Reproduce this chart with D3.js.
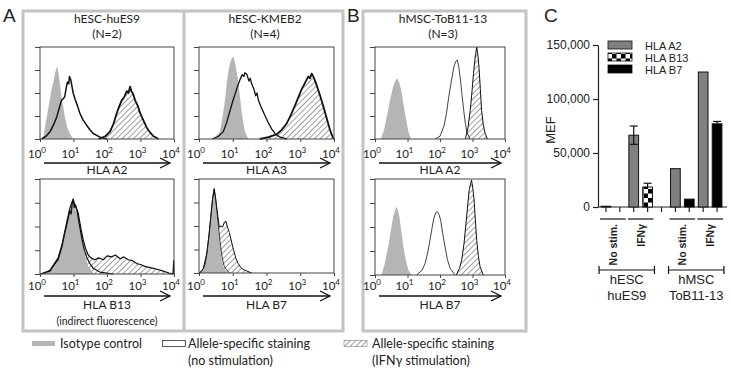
<!DOCTYPE html>
<html>
<head>
<meta charset="utf-8">
<script src="https://cdn.jsdelivr.net/npm/d3@7"></script>
<style>
body { margin: 0; background: #fff; }
svg { display: block; }
.cal { font-family: Lato, "Open Sans", sans-serif; fill: #222; }
.ari { font-family: "Liberation Sans", Arial, sans-serif; fill: #222; }
</style>
</head>
<body>
<svg id="fig" width="731" height="370"></svg>
<script>
// ---- histogram curves: [log10 fluorescence, relative count] ----
const huES9_A2_iso = [[0.05,0],[0.12,0.05],[0.2,0.24],[0.27,0.38],[0.34,0.53],[0.4,0.62],[0.45,0.72],[0.51,0.79],[0.56,0.7],[0.6,0.58],[0.64,0.46],[0.7,0.34],[0.74,0.24],[0.82,0.12],[0.89,0.06],[0.99,0]]
const huES9_A2_ns = [[0.05,0],[0.18,0.03],[0.3,0.08],[0.4,0.15],[0.5,0.24],[0.57,0.33],[0.64,0.42],[0.7,0.44],[0.74,0.46],[0.78,0.55],[0.82,0.62],[0.86,0.6],[0.88,0.68],[0.92,0.64],[0.96,0.56],[0.99,0.5],[1.05,0.43],[1.12,0.36],[1.19,0.28],[1.28,0.21],[1.39,0.15],[1.49,0.1],[1.59,0.06],[1.79,0.02],[1.99,0]]
const huES9_A2_ifn = [[1.75,0],[1.95,0.03],[2.09,0.08],[2.2,0.17],[2.29,0.28],[2.37,0.36],[2.44,0.42],[2.52,0.46],[2.59,0.52],[2.64,0.5],[2.69,0.57],[2.73,0.52],[2.78,0.49],[2.84,0.42],[2.92,0.36],[2.99,0.28],[3.09,0.2],[3.19,0.12],[3.29,0.07],[3.39,0.03],[3.54,0]]

const kmeb2_A3_iso = [[0.35,0],[0.5,0.03],[0.62,0.08],[0.7,0.25],[0.77,0.42],[0.82,0.6],[0.87,0.73],[0.93,0.84],[0.98,0.88],[1.02,0.9],[1.07,0.82],[1.14,0.68],[1.2,0.5],[1.26,0.31],[1.31,0.18],[1.36,0.08],[1.46,0]]
const kmeb2_A3_ns = [[0.4,0],[0.58,0.03],[0.72,0.08],[0.82,0.18],[0.92,0.31],[1.0,0.41],[1.07,0.49],[1.14,0.57],[1.21,0.64],[1.28,0.7],[1.33,0.68],[1.36,0.72],[1.42,0.7],[1.48,0.63],[1.52,0.66],[1.56,0.6],[1.62,0.55],[1.68,0.47],[1.72,0.5],[1.76,0.42],[1.86,0.33],[1.96,0.25],[2.05,0.18],[2.15,0.11],[2.25,0.06],[2.4,0.02],[2.6,0]]
const kmeb2_A3_ifn = [[1.8,0],[2.05,0.02],[2.3,0.05],[2.45,0.1],[2.6,0.17],[2.72,0.26],[2.84,0.36],[2.94,0.45],[3.04,0.54],[3.14,0.61],[3.24,0.68],[3.29,0.66],[3.34,0.71],[3.4,0.67],[3.49,0.58],[3.58,0.48],[3.68,0.36],[3.78,0.23],[3.88,0.1],[3.95,0.03],[4.0,0]]

const tob_A2_iso = [[0.18,0],[0.28,0.1],[0.4,0.31],[0.48,0.45],[0.56,0.57],[0.62,0.63],[0.68,0.66],[0.74,0.62],[0.81,0.53],[0.88,0.37],[0.96,0.2],[1.03,0.08],[1.11,0]]
const tob_A2_ns = [[1.85,0],[2.0,0.03],[2.12,0.14],[2.2,0.28],[2.27,0.46],[2.35,0.63],[2.43,0.79],[2.48,0.84],[2.53,0.86],[2.58,0.78],[2.63,0.64],[2.68,0.47],[2.73,0.31],[2.78,0.17],[2.83,0.07],[2.93,0]]
const tob_A2_ifn = [[2.78,0],[2.86,0.12],[2.93,0.31],[2.98,0.5],[3.03,0.71],[3.08,0.88],[3.13,1.0],[3.17,0.9],[3.2,0.78],[3.24,0.55],[3.28,0.31],[3.33,0.16],[3.38,0.07],[3.46,0]]

const huES9_B13_iso = [[0.08,0],[0.25,0.02],[0.39,0.05],[0.52,0.13],[0.64,0.25],[0.72,0.38],[0.79,0.5],[0.85,0.6],[0.89,0.66],[0.94,0.7],[0.99,0.74],[1.05,0.68],[1.1,0.64],[1.14,0.6],[1.2,0.46],[1.29,0.29],[1.36,0.17],[1.44,0.08],[1.59,0.01],[1.69,0]]
const huES9_B13_ns = [[0,0],[0.3,0.03],[0.54,0.15],[0.65,0.28],[0.74,0.43],[0.8,0.52],[0.85,0.6],[0.89,0.67],[0.93,0.63],[0.96,0.74],[0.99,0.78],[1.02,0.7],[1.06,0.73],[1.11,0.66],[1.17,0.53],[1.24,0.39],[1.31,0.27],[1.39,0.18],[1.49,0.11],[1.59,0.06],[1.79,0.02],[2.19,0]]
const huES9_B13_ifn = [[0.05,0],[0.3,0.04],[0.54,0.17],[0.65,0.3],[0.74,0.45],[0.82,0.58],[0.89,0.69],[0.95,0.75],[0.99,0.79],[1.04,0.72],[1.08,0.7],[1.14,0.64],[1.22,0.48],[1.29,0.36],[1.36,0.27],[1.44,0.2],[1.52,0.17],[1.64,0.15],[1.75,0.17],[1.89,0.15],[2.0,0.19],[2.14,0.18],[2.25,0.2],[2.39,0.16],[2.5,0.18],[2.64,0.15],[2.76,0.14],[2.89,0.11],[3.0,0.1],[3.13,0.08],[3.25,0.07],[3.38,0.06],[3.5,0.05],[3.68,0.03],[3.85,0.01],[3.97,0],[3.99,0.14],[4.0,0]]

const kmeb2_B7_iso = [[0.03,0],[0.12,0.04],[0.18,0.1],[0.23,0.2],[0.28,0.35],[0.33,0.53],[0.38,0.71],[0.42,0.82],[0.45,0.88],[0.48,0.78],[0.52,0.64],[0.57,0.45],[0.62,0.28],[0.67,0.15],[0.72,0.07],[0.8,0.02],[0.87,0]]
const kmeb2_B7_ns = [[0.0,0],[0.1,0.03],[0.18,0.09],[0.24,0.22],[0.29,0.38],[0.34,0.56],[0.38,0.72],[0.42,0.84],[0.45,0.9],[0.49,0.8],[0.53,0.66],[0.58,0.48],[0.63,0.31],[0.68,0.18],[0.74,0.08],[0.82,0.03],[0.92,0]]
const kmeb2_B7_ifn = [[0.03,0],[0.13,0.05],[0.23,0.21],[0.3,0.42],[0.35,0.6],[0.4,0.78],[0.45,0.89],[0.49,0.8],[0.52,0.71],[0.56,0.6],[0.6,0.49],[0.65,0.5],[0.7,0.49],[0.75,0.54],[0.8,0.55],[0.85,0.48],[0.9,0.43],[0.96,0.34],[1.02,0.25],[1.09,0.16],[1.16,0.1],[1.26,0.05],[1.36,0.03],[1.56,0]]

const tob_B7_iso = [[0.2,0],[0.3,0.12],[0.41,0.3],[0.49,0.47],[0.56,0.61],[0.65,0.71],[0.7,0.68],[0.75,0.61],[0.81,0.45],[0.87,0.3],[0.95,0.15],[1.03,0.05],[1.13,0]]
const tob_B7_ns = [[1.28,0],[1.45,0.05],[1.54,0.12],[1.62,0.23],[1.69,0.36],[1.75,0.48],[1.81,0.59],[1.87,0.65],[1.92,0.66],[1.97,0.63],[2.02,0.57],[2.08,0.44],[2.15,0.3],[2.23,0.16],[2.31,0.07],[2.46,0]]
const tob_B7_ifn = [[2.5,0],[2.6,0.07],[2.67,0.16],[2.74,0.33],[2.8,0.54],[2.85,0.72],[2.9,0.89],[2.94,0.95],[2.97,0.99],[3.01,0.9],[3.05,0.78],[3.09,0.56],[3.13,0.36],[3.18,0.2],[3.23,0.09],[3.33,0]]

const decades = [0, 1, 2, 3, 4]
const yTicks = [0, 0.25, 0.5, 0.75, 1]

// ---- panel C: MEF bars ----
const slots = ['hESC|ns|A2', 'hESC|ns|B13', 'hESC|ifn|A2', 'hESC|ifn|B13', 'gap',
               'hMSC|ns|A2', 'hMSC|ns|B7', 'hMSC|ifn|A2', 'hMSC|ifn|B7']
const barKeys   = ['hESC|ns|A2', 'hESC|ifn|A2', 'hESC|ifn|B13', 'hMSC|ns|A2', 'hMSC|ns|B7', 'hMSC|ifn|A2', 'hMSC|ifn|B7']
const barAllele = ['A2', 'A2', 'B13', 'A2', 'B7', 'A2', 'B7']
const barMEF    = [700, 66500, 18500, 35500, 7300, 125000, 77000]
const barSEM    = [0, 8500, 3500, 0, 0, 0, 2200]
const mefTicks  = [0, 50000, 100000, 150000]
const alleles   = ['HLA A2', 'HLA B13', 'HLA B7']
const conditions = [
    {label: 'No stim.', from: 'hESC|ns|A2', to: 'hESC|ns|B13'},
    {label: 'IFNγ', from: 'hESC|ifn|A2', to: 'hESC|ifn|B13'},
    {label: 'No stim.', from: 'hMSC|ns|A2', to: 'hMSC|ns|B7'},
    {label: 'IFNγ', from: 'hMSC|ifn|A2', to: 'hMSC|ifn|B7'}
]
const cellLines = [
    {lines: ['hESC', 'huES9'], from: 'hESC|ns|A2', to: 'hESC|ifn|B13'},
    {lines: ['hMSC', 'ToB11-13'], from: 'hMSC|ns|A2', to: 'hMSC|ifn|B7'}
]

const svg = d3.select('#fig')
const defs = svg.append('defs')

// hatch for IFN stimulation
const hatch = defs.append('pattern')
    .attr('id', 'hatch')
    .attr('patternUnits', 'userSpaceOnUse')
    .attr('width', 4).attr('height', 4)
    .attr('patternTransform', 'rotate(45)')
hatch.append('line')
    .attr('x1', 0).attr('y1', 0).attr('x2', 0).attr('y2', 4)
    .attr('stroke', '#2a2a2a').attr('stroke-width', 0.9)

// checkerboard for HLA B13
const check = defs.append('pattern')
    .attr('id', 'check')
    .attr('patternUnits', 'userSpaceOnUse')
    .attr('width', 9).attr('height', 9)
check.append('rect').attr('width', 9).attr('height', 9).attr('fill', '#fff')
check.append('rect').attr('width', 4.5).attr('height', 4.5).attr('fill', '#000')
check.append('rect').attr('x', 4.5).attr('y', 4.5).attr('width', 4.5).attr('height', 4.5).attr('fill', '#000')

const isoGrey = '#b5b5b5'
const boxGrey = '#c3c3c3'

// outer frames
svg.append('rect')
    .attr('x', 23).attr('y', 11).attr('width', 320).attr('height', 320)
    .attr('fill', 'none').attr('stroke', boxGrey).attr('stroke-width', 3)
svg.append('line')
    .attr('x1', 184).attr('x2', 184).attr('y1', 11).attr('y2', 331)
    .attr('stroke', boxGrey).attr('stroke-width', 3)
svg.append('rect')
    .attr('x', 363).attr('y', 11).attr('width', 163).attr('height', 320)
    .attr('fill', 'none').attr('stroke', boxGrey).attr('stroke-width', 3)

// panel letters
svg.append('text').attr('class', 'ari').attr('x', 3).attr('y', 22)
    .attr('font-size', 19).text('A')
svg.append('text').attr('class', 'ari').attr('x', 347).attr('y', 22)
    .attr('font-size', 19).text('B')
svg.append('text').attr('class', 'ari').attr('x', 544).attr('y', 22)
    .attr('font-size', 19).text('C')

// column titles
const titles = [
    {name: 'hESC-huES9', n: '(N=2)', cx: 107},
    {name: 'hESC-KMEB2', n: '(N=4)', cx: 265},
    {name: 'hMSC-ToB11-13', n: '(N=3)', cx: 443}
]
titles.forEach(t => {
    svg.append('text').attr('class', 'cal').attr('x', t.cx).attr('y', 23)
        .attr('text-anchor', 'middle').attr('font-size', 12).text(t.name)
    svg.append('text').attr('class', 'cal').attr('x', t.cx).attr('y', 38)
        .attr('text-anchor', 'middle').attr('font-size', 12).text(t.n)
})

const histPanels = [
    {x0: 40, x1: 174, y0: 47, y1: 139, row: 0, iso: huES9_A2_iso, ns: huES9_A2_ns, ifn: huES9_A2_ifn, marker: 'HLA A2', lw: [1.5, 1.8]},
    {x0: 199, x1: 334, y0: 47, y1: 139, row: 0, iso: kmeb2_A3_iso, ns: kmeb2_A3_ns, ifn: kmeb2_A3_ifn, marker: 'HLA A3', lw: [1.3, 1.8]},
    {x0: 375, x1: 505, y0: 47, y1: 139, row: 0, iso: tob_A2_iso, ns: tob_A2_ns, ifn: tob_A2_ifn, marker: 'HLA A2', lw: [0.8, 1.0]},
    {x0: 40, x1: 174, y0: 179, y1: 274, row: 1, iso: huES9_B13_iso, ns: huES9_B13_ns, ifn: huES9_B13_ifn, marker: 'HLA B13', lw: [1.2, 1.2]},
    {x0: 199, x1: 334, y0: 179, y1: 273, row: 1, iso: kmeb2_B7_iso, ns: kmeb2_B7_ns, ifn: kmeb2_B7_ifn, marker: 'HLA B7', lw: [0.8, 1.0]},
    {x0: 375, x1: 505, y0: 179, y1: 275, row: 1, iso: tob_B7_iso, ns: tob_B7_ns, ifn: tob_B7_ifn, marker: 'HLA B7', lw: [0.8, 1.0]}
]
const rowText = [
    {tick: 158, arrow: 163, label: 174},
    {tick: 290, arrow: 296, label: 309}
]

function drawHist(p) {
    const g = svg.append('g')
    const x = d3.scaleLog().domain([1, 1e4]).range([p.x0, p.x1])
    const y = d3.scaleLinear().domain([0, 1]).range([p.y1, p.y0])

    const area = d3.area()
        .x(d => x(10 ** d[0]))
        .y0(y(0))
        .y1(d => y(d[1]))
    const line = d3.line()
        .x(d => x(10 ** d[0]))
        .y(d => y(d[1]))

    g.append('path').datum(p.ifn).attr('d', area).attr('fill', 'url(#hatch)')
    g.append('path').datum(p.iso).attr('d', area).attr('fill', isoGrey)
    g.append('path').datum(p.ns).attr('d', line)
        .attr('fill', 'none').attr('stroke', '#111').attr('stroke-width', p.lw[0])
        .attr('stroke-linejoin', 'round')
    g.append('path').datum(p.ifn).attr('d', line)
        .attr('fill', 'none').attr('stroke', '#111').attr('stroke-width', p.lw[1])
        .attr('stroke-linejoin', 'round')

    // frame
    g.append('rect')
        .attr('x', p.x0).attr('y', p.y0)
        .attr('width', p.x1 - p.x0).attr('height', p.y1 - p.y0)
        .attr('fill', 'none').attr('stroke', '#444').attr('stroke-width', 1)

    // axes (ticks only, frame draws the lines)
    const yAxis = d3.axisLeft(y).tickValues(yTicks).tickSize(5).tickSizeOuter(0).tickFormat('')
    const xAxis = d3.axisBottom(x).tickValues(decades.map(e => 10 ** e)).tickSize(3).tickSizeOuter(0).tickFormat('')
    g.append('g').attr('transform', 'translate(' + p.x0 + ',0)').call(yAxis)
        .call(a => a.select('.domain').remove())
        .selectAll('line').attr('stroke', '#444')
    g.append('g').attr('transform', 'translate(0,' + p.y1 + ')').call(xAxis)
        .call(a => a.select('.domain').remove())
        .selectAll('line').attr('stroke', '#444')

    // decade labels
    const r = rowText[p.row]
    decades.forEach(e => {
        const t = g.append('text').attr('class', 'cal')
            .attr('x', x(10 ** e) - 3).attr('y', r.tick)
            .attr('text-anchor', 'middle').attr('font-size', 11.5)
        t.append('tspan').text('10')
        t.append('tspan').attr('dy', -5).attr('font-size', 8).text(e)
    })

    // arrow
    const ax0 = p.x0 + 4
    const ax1 = p.x1 - 4
    g.append('line')
        .attr('x1', ax0).attr('x2', ax1).attr('y1', r.arrow).attr('y2', r.arrow)
        .attr('stroke', '#111').attr('stroke-width', 1.3)
    g.append('path')
        .attr('d', 'M' + (ax1 - 10) + ',' + (r.arrow - 5) + 'L' + ax1 + ',' + r.arrow + 'L' + (ax1 - 10) + ',' + (r.arrow + 5))
        .attr('fill', 'none').attr('stroke', '#111').attr('stroke-width', 1.3)

    g.append('text').attr('class', 'cal')
        .attr('x', (p.x0 + p.x1) / 2).attr('y', r.label)
        .attr('text-anchor', 'middle').attr('font-size', 12).text(p.marker)
}

histPanels.forEach(drawHist)

svg.append('text').attr('class', 'cal')
    .attr('x', 107).attr('y', 325)
    .attr('text-anchor', 'middle').attr('font-size', 10.5).text('(indirect fluorescence)')

// bottom legend
const legY = 341
svg.append('rect').attr('x', 32).attr('y', legY).attr('width', 23).attr('height', 5).attr('fill', isoGrey)
svg.append('text').attr('class', 'cal').attr('x', 60).attr('y', legY + 7).attr('font-size', 12.5).text('Isotype control')
svg.append('rect').attr('x', 162.5).attr('y', legY - 0.5).attr('width', 23).attr('height', 6)
    .attr('fill', '#fff').attr('stroke', '#333').attr('stroke-width', 0.8)
svg.append('text').attr('class', 'cal').attr('x', 188).attr('y', legY + 7).attr('font-size', 12.5).text('Allele-specific staining')
svg.append('text').attr('class', 'cal').attr('x', 188).attr('y', legY + 24).attr('font-size', 12.5).text('(no stimulation)')
svg.append('rect').attr('x', 344).attr('y', legY - 0.5).attr('width', 23).attr('height', 6)
    .attr('fill', 'url(#hatch)').attr('stroke', '#666').attr('stroke-width', 0.5)
svg.append('text').attr('class', 'cal').attr('x', 372).attr('y', legY + 7).attr('font-size', 12.5).text('Allele-specific staining')
svg.append('text').attr('class', 'cal').attr('x', 372).attr('y', legY + 24).attr('font-size', 12.5).text('(IFNγ stimulation)')

// ---- panel C ----
const cg = svg.append('g')
const xC = d3.scaleBand().domain(slots).range([599, 724]).paddingInner(0.3).paddingOuter(0.15)
const yC = d3.scaleLinear().domain([0, 150000]).range([207, 45])
const alleleFill = {A2: '#808080', B13: 'url(#check)', B7: '#000'}

cg.append('g').attr('class', 'ari')
    .attr('transform', 'translate(598,0)')
    .call(d3.axisLeft(yC).tickValues(mefTicks).tickFormat(d3.format(',')).tickSize(5).tickSizeOuter(0))
    .call(a => a.selectAll('text').attr('font-size', 12).attr('font-family', '"Liberation Sans", Arial, sans-serif').attr('fill', '#222'))
    .call(a => a.selectAll('line,path').attr('stroke', '#222').attr('stroke-width', 1.2))

cg.append('g')
    .attr('transform', 'translate(0,207)')
    .call(d3.axisBottom(xC).tickFormat('').tickSize(5).tickSizeOuter(0))
    .call(a => a.select('.domain').attr('d', 'M598,0H727'))
    .call(a => a.selectAll('line,path').attr('stroke', '#222').attr('stroke-width', 1.2))

barKeys.forEach((k, i) => {
    cg.append('rect')
        .attr('x', xC(k)).attr('width', xC.bandwidth())
        .attr('y', yC(barMEF[i])).attr('height', yC(0) - yC(barMEF[i]))
        .attr('fill', alleleFill[barAllele[i]])
        .attr('stroke', '#111').attr('stroke-width', 1)
    if (barSEM[i] > 0) {
        const cx = xC(k) + xC.bandwidth() / 2
        const lo = barAllele[i] === 'A2' ? barMEF[i] - barSEM[i] : barMEF[i]
        cg.append('line').attr('x1', cx).attr('x2', cx)
            .attr('y1', yC(barMEF[i] + barSEM[i])).attr('y2', yC(lo))
            .attr('stroke', '#111').attr('stroke-width', 1.2)
        cg.append('line').attr('x1', cx - 4).attr('x2', cx + 4)
            .attr('y1', yC(barMEF[i] + barSEM[i])).attr('y2', yC(barMEF[i] + barSEM[i]))
            .attr('stroke', '#111').attr('stroke-width', 1.2)
        if (barAllele[i] === 'A2') {
            cg.append('line').attr('x1', cx - 4).attr('x2', cx + 4)
                .attr('y1', yC(lo)).attr('y2', yC(lo))
                .attr('stroke', '#111').attr('stroke-width', 1.2)
        }
    }
})

// legend C
alleles.forEach((a, i) => {
    const ly = 41 + i * 12
    const key = a.replace('HLA ', '')
    cg.append('rect').attr('x', 608).attr('y', ly).attr('width', 24).attr('height', 8)
        .attr('fill', alleleFill[key]).attr('stroke', '#111').attr('stroke-width', 0.8)
    cg.append('text').attr('class', 'ari').attr('x', 645).attr('y', ly + 8.5)
        .attr('font-size', 11).text(a)
})

// y title
cg.append('text').attr('class', 'ari')
    .attr('transform', 'translate(555,130) rotate(-90)')
    .attr('text-anchor', 'middle').attr('font-size', 13).text('MEF')

// condition labels
conditions.forEach(c => {
    const x0 = xC(c.from) - 1
    const x1 = xC(c.to) + xC.bandwidth() + 1
    cg.append('line').attr('x1', x0).attr('x2', x1).attr('y1', 219).attr('y2', 219)
        .attr('stroke', '#111').attr('stroke-width', 1.2)
    cg.append('text').attr('class', 'ari')
        .attr('transform', 'translate(' + ((x0 + x1) / 2 + 4) + ',224) rotate(-90)')
        .attr('text-anchor', 'end').attr('font-size', 10.5).attr('font-weight', 'bold')
        .text(c.label)
})

// cell line brackets
cellLines.forEach(c => {
    const x0 = xC(c.from) - 2
    const x1 = xC(c.to) + xC.bandwidth() + 2
    const by = 270
    cg.append('path')
        .attr('d', 'M' + x0 + ',' + (by - 4) + 'V' + (by + 4) + 'M' + x0 + ',' + by + 'H' + x1 + 'M' + x1 + ',' + (by - 4) + 'V' + (by + 4))
        .attr('fill', 'none').attr('stroke', '#111').attr('stroke-width', 1.2)
    c.lines.forEach((t, j) => {
        cg.append('text').attr('class', 'ari')
            .attr('x', (x0 + x1) / 2).attr('y', 284 + j * 16)
            .attr('text-anchor', 'middle').attr('font-size', 13).text(t)
    })
})
</script>
</body>
</html>
